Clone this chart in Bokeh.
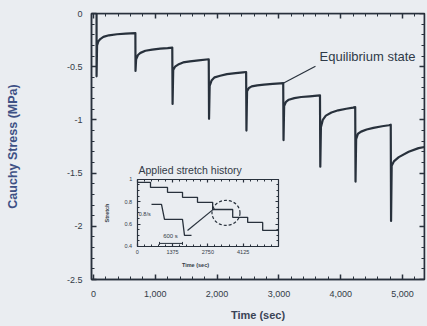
from bokeh.plotting import figure
from bokeh.models import (Range1d, LinearAxis, FixedTicker, NumeralTickFormatter,
                          CustomJSTickFormatter, Label, Arrow, TeeHead)
from bokeh.embed import file_html
from bokeh.resources import INLINE

# ---------------- data ----------------
# main curve: one list per hold step (time in s, Cauchy stress in MPa)
step1_t = [50, 50, 58, 80, 110, 160, 250, 380, 520, 678]
step1_s = [0.0, -0.59, -0.30, -0.26, -0.24, -0.22, -0.205, -0.195, -0.19, -0.185]
step2_t = [680, 690, 720, 760, 840, 950, 1080, 1200, 1275]
step2_s = [-0.54, -0.43, -0.39, -0.37, -0.35, -0.34, -0.33, -0.325, -0.32]
step3_t = [1280, 1290, 1320, 1370, 1450, 1560, 1700, 1865]
step3_s = [-0.85, -0.53, -0.50, -0.48, -0.46, -0.45, -0.44, -0.43]
step4_t = [1870, 1880, 1910, 1960, 2050, 2160, 2300, 2420, 2470]
step4_s = [-0.99, -0.68, -0.63, -0.60, -0.585, -0.57, -0.56, -0.553, -0.55]
step5_t = [2475, 2485, 2515, 2560, 2650, 2760, 2900, 3020, 3070]
step5_s = [-1.10, -0.73, -0.70, -0.685, -0.675, -0.668, -0.662, -0.657, -0.655]
step6_t = [3075, 3085, 3115, 3160, 3250, 3360, 3500, 3620, 3665]
step6_s = [-1.19, -0.87, -0.83, -0.81, -0.795, -0.785, -0.778, -0.772, -0.77]
step7_t = [3670, 3680, 3710, 3760, 3850, 3960, 4090, 4200, 4235]
step7_s = [-1.44, -1.07, -1.00, -0.96, -0.93, -0.91, -0.895, -0.885, -0.88]
step8_t = [4240, 4250, 4280, 4330, 4420, 4530, 4670, 4780, 4810]
step8_s = [-1.58, -1.18, -1.13, -1.11, -1.09, -1.075, -1.06, -1.05, -1.045]
step9_t = [4815, 4825, 4860, 4940, 5100, 5260, 5356]
step9_s = [-1.95, -1.43, -1.39, -1.35, -1.30, -1.265, -1.255]

# inset: applied stretch history
stretch_t = [0, 518, 1180, 1764, 2347, 2938, 3717, 4300, 4884, 5500]
stretch_v = [0.973, 0.928, 0.884, 0.839, 0.794, 0.73, 0.66, 0.615, 0.543, 0.543]
# inset: magnified detail of the stretch steps
detail_t = [557, 946, 1063, 1763, 1841, 2114]
detail_v = [0.776, 0.776, 0.642, 0.642, 0.499, 0.499]

x_ticks = [0, 1000, 2000, 3000, 4000, 5000]
y_ticks = [-2.5, -2.0, -1.5, -1.0, -0.5, 0.0]
inset_x_ticks = [0, 1375, 2750, 4125]
inset_y_ticks = [0.4, 0.6, 0.8, 1.0]

# ---------------- layout / style ----------------
BG = "#eaedf1"
INK = "#28313c"
TXT = "#333b47"
YLAB = "#3e5185"
FONT = "Liberation Sans"

X0, X1 = -32, 5356
Y0, Y1 = -2.5, 0.0
# inset box as fractions of the main frame
IL, IR, IT, IB = 0.1372, 0.5616, 0.6234, 0.8757
IX0, IX1 = 0, 5500
IY0, IY1 = 0.4, 1.0
sx = (IX1 - IX0) / (IR - IL)
ix_start = IX0 - IL * sx
sy = (IY1 - IY0) / (IB - IT)
iy_end = IY1 + IT * sy
iy_start = iy_end - sy

p = figure(width=427, height=326, output_backend="svg", toolbar_location=None,
           x_range=Range1d(X0, X1), y_range=Range1d(Y0, Y1),
           min_border_left=91, min_border_right=3, min_border_top=13, min_border_bottom=47,
           background_fill_color=BG, border_fill_color=BG,
           outline_line_color=INK, outline_line_width=1.5)
p.grid.visible = False
p.extra_x_ranges = {"ix": Range1d(ix_start, ix_start + sx)}
p.extra_y_ranges = {"iy": Range1d(iy_start, iy_end)}


def style_axis(ax, font_size="9px", tin=5, minin=3, lw=1.5):
    ax.axis_line_color = INK
    ax.axis_line_width = lw
    ax.major_tick_line_color = INK
    ax.minor_tick_line_color = INK
    ax.major_tick_line_width = lw
    ax.minor_tick_line_width = 1
    ax.major_tick_in = tin
    ax.major_tick_out = 0
    ax.minor_tick_in = minin
    ax.minor_tick_out = 0
    ax.major_label_text_font = FONT
    ax.major_label_text_font_size = font_size
    ax.major_label_text_color = TXT


xmin = list(range(0, 5400, 200))
ymin = [-2.5 + 0.1 * i for i in range(26)]

xa = p.below[0]
ya = p.left[0]
style_axis(xa)
style_axis(ya)
xa.ticker = FixedTicker(ticks=x_ticks, minor_ticks=xmin)
xa.formatter = NumeralTickFormatter(format="0,0")
xa.major_label_standoff = 11
xa.axis_label = "Time (sec)"
xa.axis_label_text_font = FONT
xa.axis_label_text_font_style = "bold"
xa.axis_label_text_font_size = "11px"
xa.axis_label_text_color = "#3a4456"
xa.axis_label_standoff = 9

ya.ticker = FixedTicker(ticks=y_ticks, minor_ticks=ymin)
ya.formatter = CustomJSTickFormatter(code="return String(tick)")
ya.major_label_standoff = 9
ya.axis_label = "Cauchy Stress (MPa)"
ya.axis_label_text_font = FONT
ya.axis_label_text_font_style = "bold"
ya.axis_label_text_font_size = "12.5px"
ya.axis_label_text_color = YLAB
ya.axis_label_standoff = 44

top = LinearAxis(fixed_location=Y1, ticker=FixedTicker(ticks=x_ticks, minor_ticks=xmin))
style_axis(top)
top.major_label_text_color = None
p.add_layout(top, "above")
right = LinearAxis(fixed_location=X1, ticker=FixedTicker(ticks=y_ticks, minor_ticks=ymin))
style_axis(right)
right.major_label_text_color = None
p.add_layout(right, "right")

# ---------------- main curve ----------------
time_s = (step1_t + step2_t + step3_t + step4_t + step5_t + step6_t
          + step7_t + step8_t + step9_t)
stress = (step1_s + step2_s + step3_s + step4_s + step5_s + step6_s
          + step7_s + step8_s + step9_s)
p.line(time_s, stress, line_width=2.2, color=INK, line_join="round")

# equilibrium annotation
p.line([step5_t[-1], 3592], [step5_s[-1], -0.496], line_width=1.2, color=INK)
p.add_layout(Label(x=3657, y=-0.40, text="Equilibrium state", text_font=FONT,
                   text_font_size="13px", text_color="#2f3a48",
                   text_baseline="middle", text_align="left"))

# ---------------- inset ----------------
iminx = list(range(0, 5501, 275))
iminy = [0.4 + 0.05 * i for i in range(13)]

ib = LinearAxis(x_range_name="ix", y_range_name="iy", fixed_location=IY0, bounds=(IX0, IX1),
                ticker=FixedTicker(ticks=inset_x_ticks, minor_ticks=iminx))
style_axis(ib, font_size="5.5px", tin=3, minin=2, lw=1.2)
ib.major_label_standoff = 4
p.add_layout(ib, "below")

il = LinearAxis(x_range_name="ix", y_range_name="iy", fixed_location=IX0, bounds=(IY0, IY1),
                ticker=FixedTicker(ticks=inset_y_ticks, minor_ticks=iminy))
style_axis(il, font_size="5.5px", tin=3, minin=2, lw=1.2)
il.formatter = CustomJSTickFormatter(code="return String(tick)")
il.major_label_standoff = 5
il.axis_label = "Stretch"
il.axis_label_text_font = FONT
il.axis_label_text_font_style = "bold"
il.axis_label_text_font_size = "5.5px"
il.axis_label_text_color = TXT
il.axis_label_standoff = 12
p.add_layout(il, "left")

it = LinearAxis(x_range_name="ix", y_range_name="iy", fixed_location=IY1, bounds=(IX0, IX1),
                ticker=FixedTicker(ticks=inset_x_ticks, minor_ticks=iminx))
style_axis(it, font_size="5.5px", tin=3, minin=2, lw=1.2)
it.major_label_text_color = None
p.add_layout(it, "above")

ir = LinearAxis(x_range_name="ix", y_range_name="iy", fixed_location=IX1, bounds=(IY0, IY1),
                ticker=FixedTicker(ticks=inset_y_ticks, minor_ticks=iminy))
style_axis(ir, font_size="5.5px", tin=3, minin=2, lw=1.2)
ir.major_label_text_color = None
p.add_layout(ir, "right")

p.step(stretch_t, stretch_v, mode="after", line_width=1.3, color=INK,
       x_range_name="ix", y_range_name="iy")
p.line(detail_t, detail_v, line_width=1.3, color=INK, x_range_name="ix", y_range_name="iy")
# callout line to the dashed circle
p.line([1958, 3009], [0.543, 0.740], line_width=1.2, color=INK,
       x_range_name="ix", y_range_name="iy")
p.ellipse(x=[3456], y=[0.70], width=28, height=25, width_units="screen",
          height_units="screen", fill_color=None, line_color=INK, line_width=1.2,
          line_dash="3 2", x_range_name="ix", y_range_name="iy")
p.add_layout(Arrow(start=TeeHead(size=3, line_width=1, line_color=INK),
                   end=TeeHead(size=3, line_width=1, line_color=INK),
                   x_start=868, y_start=0.427, x_end=1763, y_end=0.427,
                   line_width=1, line_color=INK, x_range_name="ix", y_range_name="iy"))

p.add_layout(Label(x=50, y=IY1, y_offset=3, text="Applied stretch history",
                   x_range_name="ix", y_range_name="iy", text_font=FONT,
                   text_font_size="10.5px", text_color=TXT, text_baseline="bottom"))
p.add_layout(Label(x=2269, y=IY0, y_offset=-19, text="Time (sec)",
                   x_range_name="ix", y_range_name="iy", text_font=FONT,
                   text_font_style="bold", text_font_size="5.5px", text_color=TXT,
                   text_baseline="middle", text_align="center"))
p.add_layout(Label(x=60, y=0.691, text="0.8/s", x_range_name="ix", y_range_name="iy",
                   text_font=FONT, text_font_size="5.5px", text_color=TXT,
                   text_baseline="middle", text_align="left"))
p.add_layout(Label(x=1296, y=0.49, text="600 s", x_range_name="ix", y_range_name="iy",
                   text_font=FONT, text_font_size="6px", text_color=TXT,
                   text_baseline="middle", text_align="center"))

html = file_html(p, INLINE)
html = html.replace("<head>", "<head><style>html,body{background:#eaedf1;}</style>", 1)
open("out.html", "w").write(html)
